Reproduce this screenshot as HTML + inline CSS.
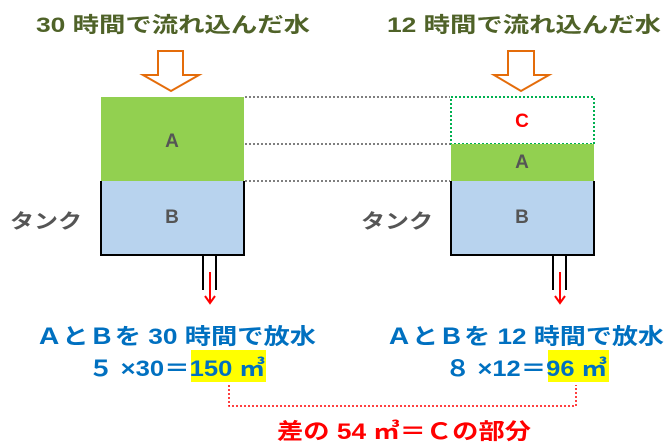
<!DOCTYPE html>
<html><head><meta charset="utf-8"><style>
html,body{margin:0;padding:0;background:#fff;}
svg{display:block}
text{font-family:"Liberation Sans","Noto Sans CJK JP",sans-serif;font-weight:bold}
</style></head><body>
<svg width="668" height="446" viewBox="0 0 668 446" xmlns="http://www.w3.org/2000/svg">
<!-- titles -->
<text x="36" y="32" font-size="21" fill="#4f6228" textLength="274" lengthAdjust="spacingAndGlyphs">30 時間で流れ込んだ水</text>
<text x="387" y="32" font-size="21" fill="#4f6228" textLength="274" lengthAdjust="spacingAndGlyphs">12 時間で流れ込んだ水</text>
<!-- orange arrows -->
<polygon points="158,51 183,51 183,75 199,75 171,91 143,75 158,75" fill="#fff" stroke="#e46c0a" stroke-width="2"/>
<polygon points="508,51 534,51 534,75 549,75 521,91 494,75 508,75" fill="#fff" stroke="#e46c0a" stroke-width="2"/>
<!-- gray dotted guides -->
<g stroke="#555" stroke-width="1.5" stroke-dasharray="2,2">
<line x1="245" y1="97" x2="450" y2="97"/>
<line x1="245" y1="144" x2="450" y2="144"/>
<line x1="245" y1="181" x2="450" y2="181"/>
</g>
<!-- left tank -->
<rect x="101" y="97" width="143" height="84" fill="#92d050"/>
<rect x="101" y="181" width="143" height="74" fill="#b8d3ee"/>
<polyline points="101,181 101,255 244,255 244,181" fill="none" stroke="#000" stroke-width="2"/>
<text x="172" y="147" font-size="19" fill="#555" text-anchor="middle" font-weight="normal">A</text>
<text x="172" y="223" font-size="19" fill="#555" text-anchor="middle" font-weight="normal">B</text>
<!-- right tank -->
<rect x="451" y="97" width="143" height="47" fill="#fff" stroke="#00b050" stroke-width="2" stroke-dasharray="2,2"/>
<rect x="451" y="144" width="143" height="37" fill="#92d050"/>
<rect x="451" y="181" width="143" height="74" fill="#b8d3ee"/>
<polyline points="451,181 451,255 594,255 594,181" fill="none" stroke="#000" stroke-width="2"/>
<text x="522" y="127" font-size="19" fill="#f00" text-anchor="middle">C</text>
<text x="522" y="168" font-size="19" fill="#555" text-anchor="middle" font-weight="normal">A</text>
<text x="522" y="223" font-size="19" fill="#555" text-anchor="middle" font-weight="normal">B</text>
<!-- タンク -->
<text x="10" y="228" font-size="20" fill="#555" textLength="72" lengthAdjust="spacingAndGlyphs">タンク</text>
<text x="361" y="228" font-size="20" fill="#555" textLength="72" lengthAdjust="spacingAndGlyphs">タンク</text>
<!-- pipes -->
<g stroke="#000" stroke-width="2">
<line x1="203" y1="255" x2="203" y2="290"/><line x1="216" y1="255" x2="216" y2="290"/>
<line x1="553" y1="255" x2="553" y2="290"/><line x1="566" y1="255" x2="566" y2="290"/>
</g>
<g stroke="#f00" stroke-width="2" fill="none">
<line x1="210" y1="272" x2="210" y2="303"/><polyline points="205,296 210,303 215,296"/>
<line x1="560" y1="272" x2="560" y2="303"/><polyline points="555,296 560,303 565,296"/>
</g>
<!-- bottom text -->
<text x="36" y="344" font-size="22" fill="#0070c0" textLength="280" lengthAdjust="spacingAndGlyphs">ＡとＢを 30 時間で放水</text>
<text x="386" y="344" font-size="22" fill="#0070c0" textLength="278" lengthAdjust="spacingAndGlyphs">ＡとＢを 12 時間で放水</text>
<rect x="191" y="350" width="75" height="32" fill="#ffff00"/>
<rect x="548" y="350" width="61" height="32" fill="#ffff00"/>
<text x="88" y="376" font-size="22" fill="#0070c0" textLength="177" lengthAdjust="spacingAndGlyphs">５ ×30＝150 ㎥</text>
<text x="445" y="376" font-size="22" fill="#0070c0" textLength="162" lengthAdjust="spacingAndGlyphs">８ ×12＝96 ㎥</text>
<polyline points="229,385 229,406 576,406 576,385" fill="none" stroke="#f00" stroke-width="1.5" stroke-dasharray="2,2"/>
<text x="277" y="439" font-size="22" fill="#f00" textLength="254" lengthAdjust="spacingAndGlyphs">差の 54 ㎥＝Ｃの部分</text>
</svg>
</body></html>
